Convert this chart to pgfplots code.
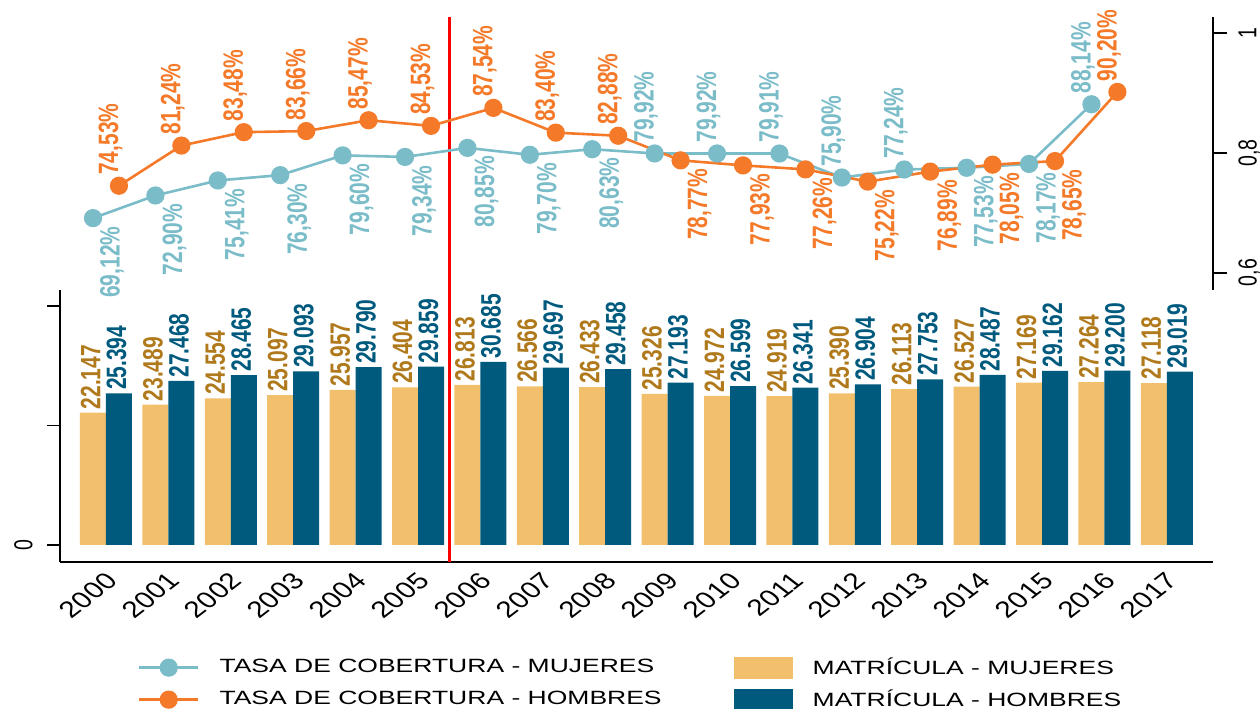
\documentclass[border=0pt]{standalone}
\usepackage{fontspec}
\setmainfont{Liberation Sans}
\newfontfamily\narrowfont[FakeStretch=0.75]{Liberation Sans}
\newfontfamily\widefont[FakeStretch=1.38]{Liberation Sans}
\usepackage{graphicx}
\usepackage{pgfplots}
\usepackage{pgfplotstable}
\pgfplotsset{compat=1.18}

\definecolor{barM}{HTML}{F2C06D}
\definecolor{barH}{HTML}{005A7E}
\definecolor{labM}{HTML}{B07A1C}
\definecolor{lineM}{HTML}{7BBCC9}
\definecolor{lineH}{HTML}{F47A2A}

% matricula (miles)
\pgfplotstableread{
yr   mm     mh
2000 22.147 25.394
2001 23.489 27.468
2002 24.554 28.465
2003 25.097 29.093
2004 25.957 29.790
2005 26.404 29.859
2006 26.813 30.685
2007 26.566 29.697
2008 26.433 29.458
2009 25.326 27.193
2010 24.972 26.599
2011 24.919 26.341
2012 25.390 26.904
2013 26.113 27.753
2014 26.527 28.487
2015 27.169 29.162
2016 27.264 29.200
2017 27.118 29.019
}\matricula

% tasa de cobertura (%), pm/ph: 1 = etiqueta arriba, -1 = abajo
\pgfplotstableread{
yr   m     pm  h     ph
2000 69.12 -1  74.53  1
2001 72.90 -1  81.24  1
2002 75.41 -1  83.48  1
2003 76.30 -1  83.66  1
2004 79.60 -1  85.47  1
2005 79.34 -1  84.53  1
2006 80.85 -1  87.54  1
2007 79.70 -1  83.40  1
2008 80.63 -1  82.88  1
2009 79.92  1  78.77 -1
2010 79.92  1  77.93 -1
2011 79.91  1  77.26 -1
2012 75.90  1  75.22 -1
2013 77.24  1  76.89 -1
2014 77.53 -1  78.05 -1
2015 78.17 -1  78.65 -1
2016 88.14  1  90.20  1
}\tasa

\tikzset{labfont/.style={font=\narrowfont\bfseries\fontsize{14}{14}\selectfont, inner sep=0pt}}

\pgfplotsset{
  common/.style={scale only axis, width=576.5pt, xmin=1999.263, xmax=2017.74, clip=false,
    /pgf/number format/assume math mode=true, /pgf/number format/1000 sep={},
    axis line style={line width=0.9pt}, tick style={line width=0.9pt, black}},
  pctlab/.style={draw=none, mark=none, forget plot,
    nodes near coords={\rotatebox{90}{\pgfmathprintnumber[fixed,fixed zerofill,precision=2,use comma]{\pgfplotspointmeta}\%}},
    every node near coord/.append style={labfont}},
  up/.style={every node near coord/.append style={anchor=south, xshift=-4.25pt, yshift=5.25pt}},
  down/.style={every node near coord/.append style={anchor=north, xshift=9.5pt, yshift=-4pt}},
  barlab/.style={draw=none, mark=none, forget plot,
    nodes near coords={\rotatebox{90}{\pgfmathprintnumber[fixed,fixed zerofill,precision=3]{\pgfplotspointmeta}}},
    every node near coord/.append style={#1, labfont, anchor=south, xshift=-1.25pt, yshift=1.5pt}},
  linestyle/.style={#1, line width=1.3pt, mark=*, mark size=3.9pt, mark options={fill=#1, draw=#1}},
  linelegend/.style={legend image code/.code={
    \draw[##1] (0pt,0pt) -- (29.5pt,0pt);
    \draw[##1] plot coordinates {(14.75pt,0pt)};}},
  barlegend/.style={legend image code/.code={\fill[##1] (0pt,-5.5pt) rectangle (29.5pt,5.5pt);}},
}

\begin{document}
\begin{tikzpicture}
\useasboundingbox (0,0) rectangle (630pt,354pt);

% barras: matricula
\begin{axis}[common, at={(30pt,73pt)}, anchor=south west, height=136pt,
  ymin=-2.85, ymax=42.7,
  axis x line*=bottom, axis y line*=left,
  xtick={2000,...,2017}, xtick style={draw=none},
  ytick={0,20,40}, yticklabels={0,{},{}},
  tick align=outside, major tick length=6.5pt,
  xticklabel style={font=\fontsize{11.5}{11.5}\selectfont, xshift=3pt, yshift=-1pt, xscale=1.3, rotate=45, anchor=east, inner sep=0pt},
  yticklabel style={font=\narrowfont\fontsize{13}{13}\selectfont, rotate=90, anchor=south, inner sep=0pt},
  yticklabel shift=7pt,
  legend columns=2, legend cell align=left,
  legend style={at={(axis description cs:0.0676,-0.348)}, anchor=north west,
    draw=none, fill=none, inner sep=0pt, outer sep=0pt, row sep=5pt,
    font=\widefont\fontsize{9.6}{11}\selectfont, nodes={inner sep=0pt},
    /tikz/every odd column/.append style={column sep=10pt},
    /tikz/every even column/.append style={column sep=36pt}},
]
\addplot[red, line width=1.5pt, forget plot] coordinates {(2005.5,-2.85) (2005.5,42.7)};

\addlegendimage{linestyle=lineM, linelegend}
\addlegendentry{TASA DE COBERTURA - MUJERES}

\addplot[ybar, bar width=13pt, bar shift=-6.5pt, fill=barM, draw=none, barlegend]
  table[x=yr, y=mm] {\matricula};
\addlegendentry{MATRÍCULA - MUJERES}

\addlegendimage{linestyle=lineH, linelegend}
\addlegendentry{TASA DE COBERTURA - HOMBRES}

\addplot[ybar, bar width=13pt, bar shift=6.5pt, fill=barH, draw=none, barlegend]
  table[x=yr, y=mh] {\matricula};
\addlegendentry{MATRÍCULA - HOMBRES}

% etiquetas de las barras
\addplot[barlab=labM] table[x expr=\thisrow{yr}-0.208, y=mm] {\matricula};
\addplot[barlab=barH] table[x expr=\thisrow{yr}+0.208, y=mh] {\matricula};
\end{axis}

% lineas: tasa de cobertura
\begin{axis}[common, at={(30pt,209pt)}, anchor=south west, height=136.5pt,
  ymin=57.11, ymax=102.72,
  axis x line=none, axis y line*=right,
  ytick={60,80,100}, yticklabels={{0,6},{0,8},{1}},
  tick align=outside, major tick length=7pt,
  yticklabel style={font=\narrowfont\fontsize{13}{13}\selectfont, rotate=90, anchor=north, inner sep=0pt},
  yticklabel shift=5.5pt,
]
\addplot[red, line width=1.5pt, forget plot] coordinates {(2005.5,57.11) (2005.5,102.72)};
\addplot[linestyle=lineM] table[x expr=\thisrow{yr}-0.208, y=m] {\tasa};
\addplot[linestyle=lineH] table[x expr=\thisrow{yr}+0.208, y=h] {\tasa};

\addplot[pctlab, up, every node near coord/.append style={lineM},
  restrict expr to domain={\thisrow{pm}}{0:2}] table[x expr=\thisrow{yr}-0.208, y=m] {\tasa};
\addplot[pctlab, down, every node near coord/.append style={lineM},
  restrict expr to domain={\thisrow{pm}}{-2:0}] table[x expr=\thisrow{yr}-0.208, y=m] {\tasa};
\addplot[pctlab, up, every node near coord/.append style={lineH},
  restrict expr to domain={\thisrow{ph}}{0:2}] table[x expr=\thisrow{yr}+0.208, y=h] {\tasa};
\addplot[pctlab, down, every node near coord/.append style={lineH},
  restrict expr to domain={\thisrow{ph}}{-2:0}] table[x expr=\thisrow{yr}+0.208, y=h] {\tasa};
\end{axis}
\end{tikzpicture}
\end{document}
